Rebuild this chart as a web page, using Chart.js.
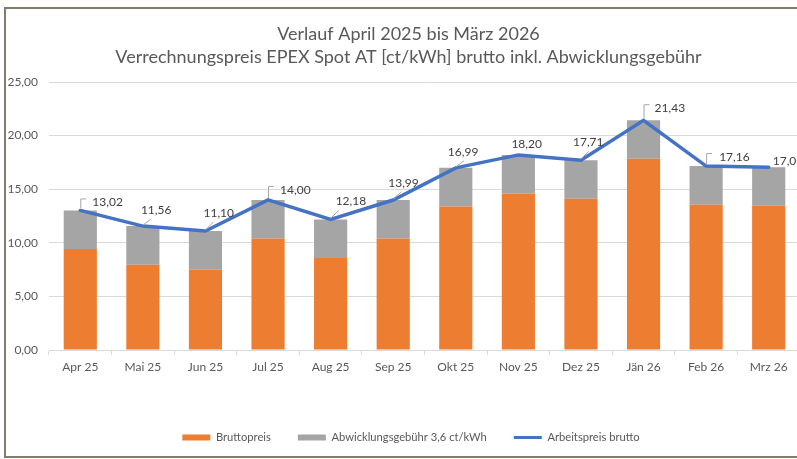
<!DOCTYPE html>
<html>
<head>
<meta charset="utf-8">
<script src="https://cdn.jsdelivr.net/npm/chart.js@4.4.0/dist/chart.umd.min.js"></script>
<style>
  html, body { margin: 0; padding: 0; overflow: hidden; background: #fff; }
  #wrap { position: relative; width: 797px; height: 459px; overflow: hidden; }
  #c { position: absolute; left: 0; top: 0; }
  #frame { position: absolute; left: 4px; top: 7px; width: 900px; height: 447px;
           border: 2px solid #857b6b; border-right: none; pointer-events: none; }
</style>
</head>
<body>
<div id="wrap">
  <canvas id="c" width="800" height="459"></canvas>
  <div id="frame"></div>
</div>
<script>
const months = ['Apr 25', 'Mai 25', 'Jun 25', 'Jul 25', 'Aug 25', 'Sep 25',
                'Okt 25', 'Nov 25', 'Dez 25', 'Jän 26', 'Feb 26', 'Mrz 26']
const bruttopreis = [9.42, 7.96, 7.50, 10.40, 8.58, 10.39, 13.39, 14.60, 14.11, 17.83, 13.56, 13.45]
const abwicklung = [3.6, 3.6, 3.6, 3.6, 3.6, 3.6, 3.6, 3.6, 3.6, 3.6, 3.6, 3.6]
const arbeitspreis = [13.02, 11.56, 11.10, 14.00, 12.18, 13.99, 16.99, 18.20, 17.71, 21.43, 17.16, 17.05]
const yTicks = [0, 5, 10, 15, 20, 25]

// where each value label sits relative to its point: [dx, dy, leader]
const labelOffsets = [
  [12, -8, 'b'], [-2, -16, 'd'], [-2, -18, 'd'], [12, -10, 'b'],
  [5, -18, 'd'], [-5, -17, 'd'], [-8, -16, 'd'], [-7, -11, ''],
  [-8, -18, 'd'], [11, -12, 'b'], [13, -9, 'b'], [4, -6, '']
]

const fmt = v => v.toFixed(2).replace('.', ',')
const FONT = 'Lato'

const valueLabels = {
  id: 'valueLabels',
  afterDatasetsDraw(chart) {
    const ctx = chart.ctx
    const meta = chart.getDatasetMeta(2)
    ctx.save()
    ctx.font = '12px ' + FONT
    ctx.textBaseline = 'middle'
    ctx.textAlign = 'left'
    meta.data.forEach((pt, i) => {
      const [dx, dy, kind] = labelOffsets[i]
      const x = pt.x, y = pt.y
      ctx.strokeStyle = '#a6a6a6'
      ctx.lineWidth = 1
      if (kind === 'b') {
        ctx.beginPath()
        ctx.moveTo(x + 0.5, y - 2)
        ctx.lineTo(x + 0.5, y + dy - 3.5)
        ctx.lineTo(x + 6, y + dy - 3.5)
        ctx.stroke()
      } else if (kind === 'd') {
        ctx.beginPath()
        ctx.moveTo(x, y - 1)
        ctx.lineTo(x + 8, y + dy + 9)
        ctx.stroke()
      }
      ctx.fillStyle = '#404040'
      ctx.fillText(fmt(arbeitspreis[i]), x + dx, y + dy)
    })
    ctx.restore()
  }
}

// excel centres title and legend a bit right of the canvas middle
const nudgeBoxes = {
  id: 'nudgeBoxes',
  afterLayout(chart) {
    chart.legend.left += 7.5
    chart.legend.right += 7.5
    chart.titleBlock.left += 5
    chart.titleBlock.right += 5
  }
}

new Chart(document.getElementById('c'), {
  type: 'bar',
  data: {
    labels: months,
    datasets: [
      { label: 'Bruttopreis', data: bruttopreis, backgroundColor: '#ed7d31',
        categoryPercentage: 1, barPercentage: 0.53 },
      { label: 'Abwicklungsgebühr 3,6 ct/kWh', data: abwicklung, backgroundColor: '#a5a5a5',
        categoryPercentage: 1, barPercentage: 0.53 },
      { type: 'line', label: 'Arbeitspreis brutto', data: arbeitspreis, stack: 'line',
        borderColor: '#4472c4', backgroundColor: '#4472c4', borderWidth: 3.5,
        pointRadius: 0, tension: 0, order: -1, borderCapStyle: 'round' }
    ]
  },
  options: {
    responsive: false,
    animation: false,
    devicePixelRatio: 1,
    layout: { padding: { left: 7, right: 0, top: 23, bottom: 6 } },
    plugins: {
      title: {
        display: true,
        text: ['Verlauf April 2025 bis März 2026',
               'Verrechnungspreis EPEX Spot AT [ct/kWh] brutto inkl. Abwicklungsgebühr'],
        color: '#595959',
        font: { family: FONT, size: 18, weight: 'normal', lineHeight: 1.25 },
        padding: { top: 0, bottom: 14 }
      },
      legend: {
        position: 'bottom',
        labels: {
          usePointStyle: true, pointStyleWidth: 28, boxHeight: 6,
          padding: 27, color: '#595959',
          font: { family: FONT, size: 11.2 },
          sort: (a, b) => a.datasetIndex - b.datasetIndex,
          generateLabels(chart) {
            return chart.data.datasets.map((ds, i) => ({
              text: ds.label, datasetIndex: i, hidden: false,
              fillStyle: ds.type === 'line' ? ds.borderColor : ds.backgroundColor,
              strokeStyle: ds.type === 'line' ? ds.borderColor : ds.backgroundColor,
              lineWidth: ds.type === 'line' ? 3 : 0,
              pointStyle: ds.type === 'line' ? 'line' : 'rect',
              fontColor: '#595959'
            }))
          }
        }
      },
      tooltip: { enabled: false }
    },
    scales: {
      x: {
        stacked: true,
        afterFit(s) { s.height = 54.8 },
        grid: { offset: true, drawOnChartArea: false, tickLength: 5, color: '#d9d9d9' },
        border: { display: true, color: '#d9d9d9' },
        ticks: { color: '#595959', padding: 5, font: { family: FONT, size: 12 } }
      },
      y: {
        stacked: true, min: 0, max: 25,
        afterFit(s) { s.width = 42 },
        afterBuildTicks(s) { s.ticks = yTicks.map(v => ({ value: v })) },
        grid: { color: '#d9d9d9', drawTicks: false },
        border: { display: false },
        ticks: { color: '#595959', padding: 11, callback: v => fmt(v),
                 font: { family: FONT, size: 12 } }
      }
    }
  },
  plugins: [valueLabels, nudgeBoxes]
})
</script>
</body>
</html>
